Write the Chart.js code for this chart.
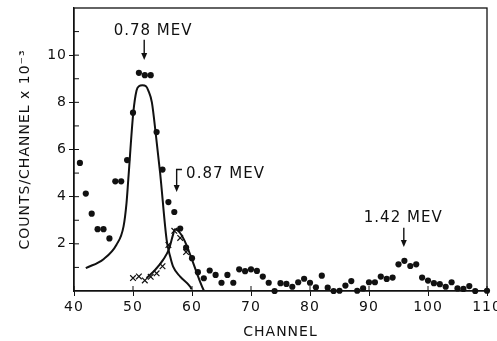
<!DOCTYPE html>
<html>
<head>
<meta charset="utf-8">
<script src="https://cdn.jsdelivr.net/npm/chart.js@4"></script>
<style>
  html, body { margin: 0; padding: 0; background: #fff; }
  #wrap { width: 497px; height: 341px; }
</style>
</head>
<body>
<div id="wrap"><canvas id="spectrum" width="497" height="341"></canvas></div>
<script>
// measured counts (x 10^-3) per channel
const channels = [41, 42, 43, 44, 45, 46, 47, 48, 49, 50, 51, 52, 53, 54, 55, 56, 57, 58, 59, 60,
    61, 62, 63, 64, 65, 66, 67, 68, 69, 70, 71, 72, 73, 74, 75, 76, 77, 78, 79, 80,
    81, 82, 83, 84, 85, 86, 87, 88, 89, 90, 91, 92, 93, 94, 95, 96, 97, 98, 99, 100,
    101, 102, 103, 104, 105, 106, 107, 108, 110];
const counts = [5.43, 4.13, 3.28, 2.62, 2.62, 2.23, 4.65, 4.65, 5.55, 7.56, 9.25, 9.15, 9.15, 6.74, 5.15, 3.77, 3.35, 2.65, 1.84, 1.39,
    0.80, 0.54, 0.87, 0.68, 0.35, 0.68, 0.35, 0.92, 0.84, 0.92, 0.85, 0.61, 0.35, 0.00, 0.33, 0.30, 0.18, 0.37, 0.52, 0.35,
    0.16, 0.65, 0.14, 0.00, 0.01, 0.23, 0.42, 0.01, 0.11, 0.37, 0.37, 0.61, 0.51, 0.57, 1.13, 1.28, 1.06, 1.13, 0.57, 0.44,
    0.33, 0.29, 0.18, 0.37, 0.11, 0.09, 0.21, 0.00, 0.01];

// residual points after subtracting the 0.78 MeV line
const crossChannels = [50, 51, 52, 53, 54, 55, 56, 57, 58, 59];
const crossCounts = [0.55, 0.62, 0.45, 0.60, 0.75, 1.05, 1.95, 2.55, 2.25, 1.65];

// fitted line shapes
const fit078X = [42, 45, 47.2, 48.4, 48.9, 49.2, 50.05, 50.6, 51.0, 51.6, 52.2, 52.6, 53.2, 53.9, 54.6, 55.7, 56.3, 56.8, 58, 59.7, 59.9];
const fit078Y = [0.97, 1.35, 1.96, 2.74, 3.73, 4.72, 7.56, 8.5, 8.68, 8.72, 8.68, 8.5, 8.0, 6.57, 5.0, 2.17, 1.46, 1.03, 0.61, 0.18, 0.08];
const fit087X = [52.3, 53.7, 55.1, 56.1, 56.8, 57.1, 62];
const fit087Y = [0.55, 0.88, 1.32, 1.78, 2.4, 2.62, 0.02];

const xTicks = [40, 50, 60, 70, 80, 90, 100, 110];
const yTicks = [2, 4, 6, 8, 10];

const peakLabels = ['0.78 MEV', '0.87 MEV', '1.42 MEV'];

function pairs(xs, ys) {
    return xs.map((x, i) => ({ x: x, y: ys[i] }));
}

// label placement in data units
const labelSpots = [
    { tx: 53.4, ty: 11.0, align: 'center', ax: 51.9, ay0: 10.65, ay1: 9.8 },
    { tx: 59.0, ty: 4.95, align: 'left', ax: 57.4, ay0: 5.15, ay1: 4.2, hook: 58.3 },
    { tx: 95.8, ty: 3.1, align: 'center', ax: 95.9, ay0: 2.68, ay1: 1.87 }
];

const framePlugin = {
    id: 'frame',
    beforeDraw(chart) {
        chart.ctx.letterSpacing = '1px';
    },
    afterDraw(chart) {
        const ctx = chart.ctx;
        const area = chart.chartArea;
        const xs = chart.scales.x;
        const ys = chart.scales.y;
        ctx.save();
        ctx.strokeStyle = '#111';
        ctx.lineWidth = 1.3;
        ctx.strokeRect(area.left, area.top, area.right - area.left, area.bottom - area.top);

        // inner tick marks
        ctx.lineWidth = 1;
        ctx.beginPath();
        xTicks.forEach(v => {
            const px = xs.getPixelForValue(v);
            ctx.moveTo(px, area.bottom);
            ctx.lineTo(px, area.bottom - 5);
        });
        for (let v = 1; v < 12; v++) {
            const py = ys.getPixelForValue(v);
            ctx.moveTo(area.left, py);
            ctx.lineTo(area.left + 5, py);
        }
        ctx.stroke();

        // peak labels
        ctx.fillStyle = '#111';
        ctx.font = '15px "DejaVu Sans"';
        ctx.letterSpacing = '1px';
        ctx.textBaseline = 'middle';
        labelSpots.forEach((s, i) => {
            ctx.textAlign = s.align;
            ctx.fillText(peakLabels[i], xs.getPixelForValue(s.tx), ys.getPixelForValue(s.ty));
            const ax = xs.getPixelForValue(s.ax);
            const y0 = ys.getPixelForValue(s.ay0);
            const y1 = ys.getPixelForValue(s.ay1);
            ctx.lineWidth = 1.4;
            ctx.beginPath();
            if (s.hook) {
                ctx.moveTo(xs.getPixelForValue(s.hook), y0);
                ctx.lineTo(ax, y0);
            } else {
                ctx.moveTo(ax, y0);
            }
            ctx.lineTo(ax, y1 - 5);
            ctx.stroke();
            ctx.beginPath();
            ctx.moveTo(ax - 3, y1 - 7);
            ctx.lineTo(ax + 3, y1 - 7);
            ctx.lineTo(ax, y1);
            ctx.closePath();
            ctx.fill();
        });
        ctx.restore();
    }
};

Chart.defaults.font.family = '"DejaVu Sans", sans-serif';
Chart.defaults.color = '#111';

new Chart(document.getElementById('spectrum').getContext('2d'), {
    type: 'scatter',
    data: {
        datasets: [
            {
                label: 'counts',
                data: pairs(channels, counts),
                pointStyle: 'circle',
                pointRadius: 3.1,
                backgroundColor: '#111',
                borderColor: '#111',
                borderWidth: 0,
                clip: false
            },
            {
                label: 'residual',
                data: pairs(crossChannels, crossCounts),
                pointStyle: 'crossRot',
                pointRadius: 4,
                borderColor: '#111',
                borderWidth: 1.2
            },
            {
                label: '0.78',
                type: 'line',
                data: pairs(fit078X, fit078Y),
                borderColor: '#111',
                borderWidth: 2,
                pointRadius: 0,
                cubicInterpolationMode: 'monotone',
                fill: false
            },
            {
                label: '0.87',
                type: 'line',
                data: pairs(fit087X, fit087Y),
                borderColor: '#111',
                borderWidth: 2,
                pointRadius: 0,
                cubicInterpolationMode: 'monotone',
                fill: false
            }
        ]
    },
    options: {
        responsive: false,
        animation: false,
        layout: { padding: { left: 0, top: 8, right: 10, bottom: 0 } },
        plugins: {
            legend: { display: false },
            tooltip: { enabled: false }
        },
        scales: {
            x: {
                type: 'linear',
                min: 40,
                max: 110,
                afterFit: s => { s.height = 50; s.paddingLeft = 0; s.paddingRight = 0; },
                afterBuildTicks: s => { s.ticks = xTicks.map(v => ({ value: v })); },
                ticks: { font: { size: 14 }, padding: 3 },
                grid: { drawOnChartArea: false, tickLength: 5, color: '#111' },
                border: { color: '#111', width: 1.3 },
                title: { display: true, text: 'CHANNEL', font: { size: 14 }, padding: { top: 0, bottom: 0 } }
            },
            y: {
                type: 'linear',
                min: 0,
                max: 12,
                afterFit: s => { s.width = 74; s.paddingTop = 0; s.paddingBottom = 0; },
                afterBuildTicks: s => { s.ticks = yTicks.map(v => ({ value: v })); },
                ticks: { font: { size: 14 }, padding: 2 },
                grid: { drawOnChartArea: false, tickLength: 5, color: '#111' },
                border: { color: '#111', width: 1.3 },
                title: { display: true, text: 'COUNTS/CHANNEL x 10⁻³', font: { size: 14 }, padding: { top: 17, bottom: 0 } }
            }
        }
    },
    plugins: [framePlugin]
});
</script>
</body>
</html>
